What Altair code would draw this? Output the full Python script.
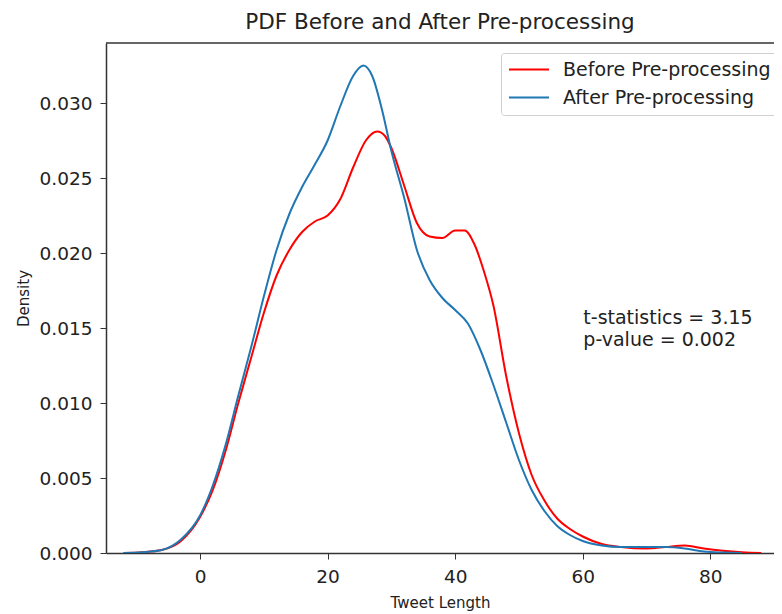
import altair as alt
import pandas as pd

# Series values (KDE curves)
before_x = [-12, -9, -6, -3, 0, 2, 4, 6, 8, 10, 12, 14, 16, 18, 20, 22, 24, 26, 27.8, 29, 30, 32, 34, 36, 38, 40, 41.5, 43, 44.5, 46, 48, 50, 52, 54, 56, 58, 60, 63, 66, 70, 73, 76, 79, 82, 85, 88]
before_y = [0, 0.00005, 0.0002, 0.0008, 0.0024, 0.0042, 0.0068, 0.0100, 0.0130, 0.0160, 0.0185, 0.0202, 0.0214, 0.0221, 0.0225, 0.0236, 0.0257, 0.0275, 0.0281, 0.0278, 0.0270, 0.0245, 0.0220, 0.0211, 0.0210, 0.0215, 0.0215, 0.0206, 0.0188, 0.0165, 0.0118, 0.0080, 0.0052, 0.0035, 0.0023, 0.0016, 0.0011, 0.0006, 0.0004, 0.0003, 0.0004, 0.0005, 0.0003, 0.00015, 0.00005, 0]

after_x = [-12, -9, -6, -3, 0, 2, 4, 6, 8, 10, 12, 14, 16, 18, 20, 22, 24, 25.6, 27, 28.5, 30, 32, 34, 36, 38, 40, 42, 44, 46, 48, 50, 52, 54, 56, 58, 60, 63, 66, 70, 73, 76, 79, 82, 85]
after_y = [0, 0.00005, 0.0002, 0.0009, 0.0025, 0.0045, 0.0072, 0.0105, 0.0137, 0.0171, 0.0202, 0.0226, 0.0244, 0.0259, 0.0275, 0.0298, 0.0318, 0.0325, 0.0318, 0.0296, 0.0268, 0.0237, 0.0202, 0.0182, 0.0170, 0.0162, 0.0153, 0.0135, 0.0112, 0.0087, 0.0062, 0.0042, 0.0028, 0.0018, 0.0012, 0.0008, 0.0005, 0.0004, 0.0004, 0.0004, 0.0003, 0.0001, 0.00003, 0]

series_names = ["Before Pre-processing", "After Pre-processing"]
series_colors = ["#ff0000", "#1f77b4"]
x_ticks = [0, 20, 40, 60, 80]
y_ticks = [0.0, 0.005, 0.010, 0.015, 0.020, 0.025, 0.030]
annotation_lines = ["t-statistics = 3.15", "p-value = 0.002"]

df = pd.concat([
    pd.DataFrame({"x": before_x, "y": before_y, "series": series_names[0], "order": range(len(before_x))}),
    pd.DataFrame({"x": after_x, "y": after_y, "series": series_names[1], "order": range(len(after_x))}),
])

FONT = "DejaVu Sans"
XDOM = [-14.75, 90.0]
YDOM = [0, 0.034]

x_scale = alt.Scale(domain=XDOM, nice=False, zero=False)
y_scale = alt.Scale(domain=YDOM, nice=False, zero=False)

lines = alt.Chart(df).mark_line(strokeWidth=2, interpolate="monotone", clip=True).encode(
    x=alt.X("x:Q", scale=x_scale, title="Tweet Length",
            axis=alt.Axis(values=x_ticks, format="d", grid=False)),
    y=alt.Y("y:Q", scale=y_scale, title="Density",
            axis=alt.Axis(values=y_ticks, format=".3f", grid=False)),
    color=alt.Color("series:N",
                    scale=alt.Scale(domain=series_names, range=series_colors),
                    sort=series_names,
                    legend=alt.Legend(title=None, orient="none", legendX=395, legendY=10,
                                      symbolType="stroke", symbolStrokeWidth=2, symbolSize=1600,
                                      clipHeight=19,
                                      labelFontSize=19, labelFont=FONT, labelColor="#222",
                                      labelLimit=0,
                                      strokeColor="#d0d0d0", fillColor="white", cornerRadius=3,
                                      padding=7, rowPadding=8, labelOffset=13)),
    order="order:Q",
    detail="series:N",
)

top_border = alt.Chart(pd.DataFrame({"v": [YDOM[1]]})).mark_rule(color="#333", strokeWidth=1.5).encode(
    y=alt.Y("v:Q", scale=y_scale),
)

ann = alt.Chart(pd.DataFrame({"t": annotation_lines, "x": [60.1, 60.1], "y": [0.01567, 0.0142]})).mark_text(
    align="left", baseline="middle", fontSize=19, font=FONT, color="#222"
).encode(x=alt.X("x:Q", scale=x_scale), y=alt.Y("y:Q", scale=y_scale), text="t:N")

chart = alt.layer(lines, top_border, ann).properties(
    width=668, height=510,
    title=alt.TitleParams("PDF Before and After Pre-processing", fontSize=21.5, font=FONT,
                          fontWeight="normal", color="#222", offset=9),
    autosize=alt.AutoSizeParams(type="none"),
    padding={"left": 98, "top": 35, "right": 0, "bottom": 62},
).configure_view(stroke=None).configure_axis(
    labelFont=FONT, titleFont=FONT, labelFontSize=18.5, titleFontSize=15,
    labelColor="#222", titleColor="#222", titleFontWeight="normal",
    domainColor="#333", domainWidth=1.5, tickColor="#333", tickSize=6,
).configure_axisY(titlePadding=8, labelPadding=8).configure_axisX(titlePadding=10, labelPadding=8)

chart.save("out.html", embed_options={"renderer": "svg", "actions": False})
